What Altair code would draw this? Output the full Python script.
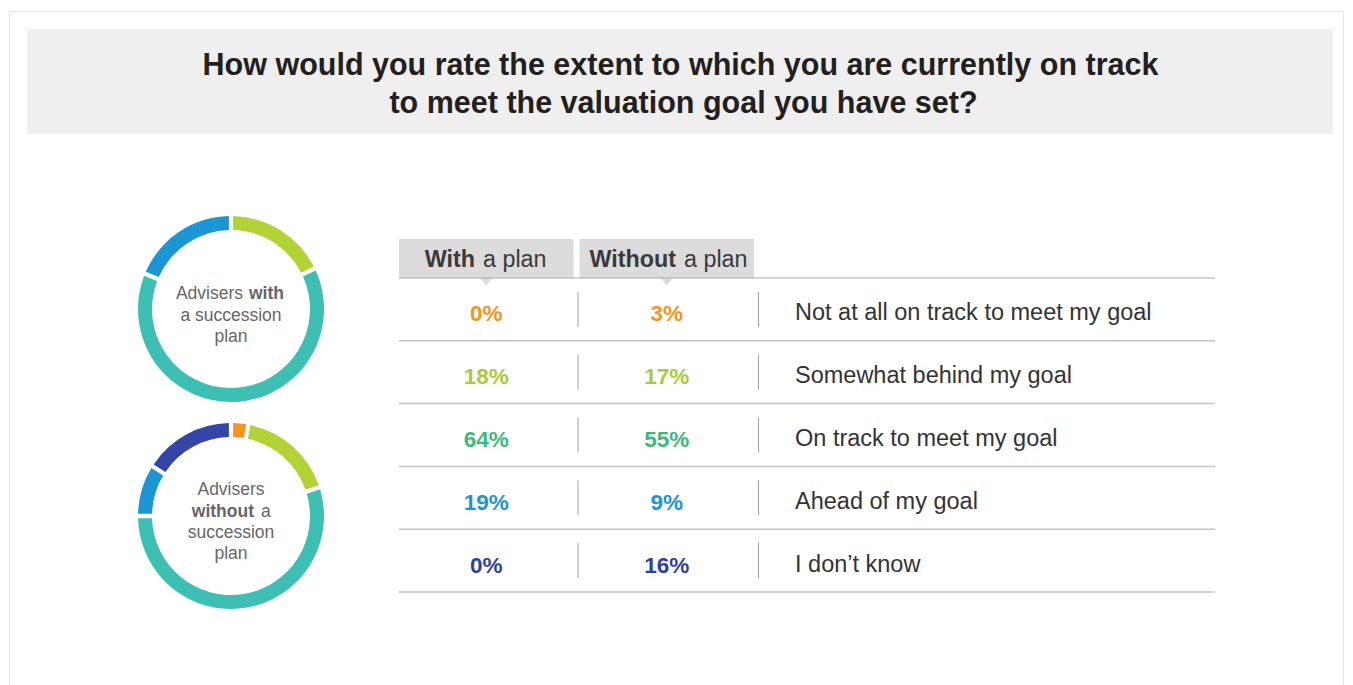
import altair as alt
import pandas as pd

# ---------------- data ----------------
categories = [
    "Not at all on track to meet my goal",
    "Somewhat behind my goal",
    "On track to meet my goal",
    "Ahead of my goal",
    "I don\u2019t know",
]
with_plan = [0, 18, 64, 19, 0]
without_plan = [3, 17, 55, 9, 16]
ring_colors = ["#f7941d", "#b2d235", "#3dbfb4", "#1a96d5", "#3346a8"]
text_colors = ["#f7941d", "#a9cb3a", "#3dba7a", "#1b95d5", "#2f3fa0"]
columns = ["With a plan", "Without a plan"]

title_lines = [
    "How would you rate the extent to which you are currently on track",
    "to meet the valuation goal you have set?",
]

FONT = "Liberation Sans"
W, H = 1337, 677

# ---------------- tables ----------------
rows = []
for i, c in enumerate(categories):
    rows.append({"category": c, "col": columns[0], "value": with_plan[i],
                 "label": f"{with_plan[i]}%", "tcolor": text_colors[i], "idx": i})
    rows.append({"category": c, "col": columns[1], "value": without_plan[i],
                 "label": f"{without_plan[i]}%", "tcolor": text_colors[i], "idx": i})
table = pd.DataFrame(rows)
cats_df = pd.DataFrame({"category": categories})
cols_df = pd.DataFrame({"col": columns})

donut_with = pd.DataFrame({"category": categories, "value": with_plan,
                           "color": ring_colors, "idx": range(5)})
donut_without = pd.DataFrame({"category": categories, "value": without_plan,
                              "color": ring_colors, "idx": range(5)})
one = pd.DataFrame({"a": [0]})

yscale = alt.Scale(type="band", domain=categories, range=[270, 584],
                   paddingInner=0, paddingOuter=0)
xscale = alt.Scale(type="band", domain=columns, range=[391, 746],
                   paddingInner=0.033, paddingOuter=0)

# ---------------- background ----------------
frame = alt.Chart(one).mark_rect(fillOpacity=0, stroke="#e6e6e6", strokeWidth=1).encode(
    x=alt.value(1.5), x2=alt.value(1335.5), y=alt.value(3.5), y2=alt.value(700))
banner = alt.Chart(one).mark_rect(color="#efefef").encode(
    x=alt.value(19), x2=alt.value(1325), y=alt.value(21), y2=alt.value(126))
title1 = alt.Chart(one).mark_text(text=title_lines[0], font=FONT, fontSize=30.5,
                                  fontWeight="bold", color="#231f20",
                                  baseline="middle", align="center").encode(
    x=alt.value(672.5), y=alt.value(58))
title2 = alt.Chart(one).mark_text(text=title_lines[1], font=FONT, fontSize=30.5,
                                  fontWeight="bold", color="#231f20",
                                  baseline="middle", align="center").encode(
    x=alt.value(675.5), y=alt.value(95.5))

# ---------------- header ----------------
hdr_box = alt.Chart(cols_df).mark_rect(color="#dcdcdc").encode(
    x=alt.X("col:N", scale=xscale, axis=None),
    y=alt.value(231), y2=alt.value(270))
hdr_ptr = alt.Chart(cols_df).mark_point(shape="M-1,0L1,0L0,1.3Z", size=144,
                                        filled=True, color="#dcdcdc", opacity=1).encode(
    x=alt.X("col:N", scale=xscale, axis=None), y=alt.value(270))
hdr_line = alt.Chart(one).mark_rule(color="#aaaaaa", strokeWidth=1).encode(
    x=alt.value(391), x2=alt.value(1207), y=alt.value(270))

def htext(t, x, align, weight):
    return alt.Chart(one).mark_text(text=t, font=FONT, fontSize=23.3, fontWeight=weight,
                                    color="#3a3a3a", align=align, baseline="middle").encode(
        x=alt.value(x), y=alt.value(252))

hdr_texts = [
    htext("With", 467, "right", "bold"), htext("a plan", 475, "left", "normal"),
    htext("Without", 668, "right", "bold"), htext("a plan", 676, "left", "normal"),
]

# ---------------- table body ----------------
row_lines = alt.Chart(cats_df).mark_rule(color="#c4c4c4", strokeWidth=1.5).encode(
    y=alt.Y("category:N", scale=yscale, bandPosition=1, axis=None),
    x=alt.value(391), x2=alt.value(1207))
dividers = alt.Chart(table).mark_tick(orient="vertical", size=35, thickness=1,
                                      color="#a0a0a0", opacity=1, xOffset=4.5).encode(
    x=alt.X("col:N", scale=xscale, bandPosition=1, axis=None),
    y=alt.Y("category:N", scale=yscale, axis=None))
pct = alt.Chart(table).mark_text(font=FONT, fontSize=22.5, fontWeight="bold",
                                 baseline="middle", align="center", dy=5).encode(
    x=alt.X("col:N", scale=xscale, axis=None),
    y=alt.Y("category:N", scale=yscale, axis=None),
    text="label:N",
    color=alt.Color("tcolor:N", scale=None))
labels = alt.Chart(cats_df).mark_text(font=FONT, fontSize=23.5, color="#333333",
                                      align="left", baseline="middle", dy=4).encode(
    x=alt.value(787),
    y=alt.Y("category:N", scale=yscale, axis=None),
    text="category:N")

# ---------------- donuts ----------------
def donut(df, cy):
    return alt.Chart(df).transform_filter("datum.value > 0").mark_arc(
        radius=93, radius2=79, padAngle=0.035).encode(
        theta=alt.Theta("value:Q", stack=True),
        color=alt.Color("color:N", scale=None),
        order=alt.Order("idx:Q"),
        x=alt.value(223), y=alt.value(cy))

def dtext(t, x, y, align, weight):
    return alt.Chart(one).mark_text(text=t, font=FONT, fontSize=17.5, fontWeight=weight,
                                    color="#666666", align=align, baseline="middle").encode(
        x=alt.value(x), y=alt.value(y))

d1 = donut(donut_with, 301)
d2 = donut(donut_without, 508)
d_texts = [
    dtext("Advisers", 235, 286, "right", "normal"), dtext("with", 241, 286, "left", "bold"),
    dtext("a succession", 223, 308, "center", "normal"),
    dtext("plan", 223, 329, "center", "normal"),
    dtext("Advisers", 223, 482, "center", "normal"),
    dtext("without", 246, 504, "right", "bold"), dtext("a", 253, 504, "left", "normal"),
    dtext("succession", 223, 525, "center", "normal"),
    dtext("plan", 223, 546, "center", "normal"),
]

chart = alt.layer(
    frame, banner, title1, title2,
    hdr_box, hdr_ptr, hdr_line, *hdr_texts,
    row_lines, dividers, pct, labels,
    d1, d2, *d_texts,
).resolve_scale(theta="independent").properties(
    width=W, height=H, padding=0, autosize=alt.AutoSizeParams(type="none")
).configure_view(stroke=None)

chart.save("out.html", embed_options={"renderer": "svg", "actions": False})
